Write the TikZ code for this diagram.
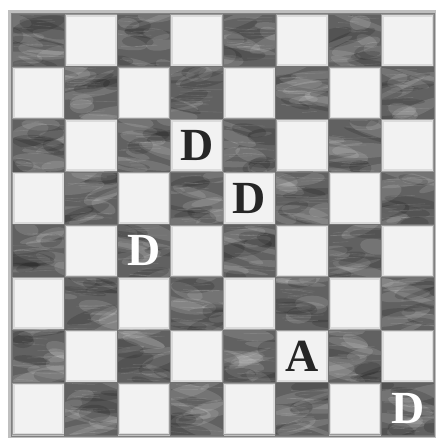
\documentclass[tikz,border=0pt]{standalone}
\usepackage{fontspec}
\setmainfont{Liberation Serif}
\begin{document}
\begin{tikzpicture}[x=1pt,y=-1pt,
  piece/.style={inner sep=0pt,font=\fontsize{46}{46}\selectfont\bfseries},
  onlight/.style={piece,text=black!85},
  ondark/.style={piece,text=white}]
\pgfmathsetseed{23}
\useasboundingbox (0,0) rectangle (437,440);
\fill[white] (0,0) rectangle (437,440);
\def\sx{52.75}
\def\sy{52.65}
\fill[black!25] (8,10) rectangle (436,438);
\foreach \r in {0,...,7}{
 \foreach \c in {0,...,7}{
  \pgfmathsetmacro\xa{12+\c*\sx}
  \pgfmathsetmacro\ya{14+\r*\sy}
  \pgfmathtruncatemacro\parity{mod(\r+\c,2)}
  \ifnum\parity=0
    \fill[black!62] (\xa,\ya) rectangle ++(\sx,\sy);
    \begin{scope}
      \clip (\xa,\ya) rectangle ++(\sx,\sy);
      \foreach \k in {1,...,9}{
        \pgfmathsetmacro\px{\xa+rnd*\sx}
        \pgfmathsetmacro\py{\ya+rnd*\sy}
        \pgfmathsetmacro\rx{10+rnd*24}
        \pgfmathsetmacro\ry{2+rnd*6}
        \pgfmathsetmacro\an{-25+rnd*50}
        \fill[white,opacity=0.12,rotate around={\an:(\px,\py)}] (\px,\py) ellipse ({\rx} and {\ry});
      }
      \foreach \k in {1,...,5}{
        \pgfmathsetmacro\px{\xa+rnd*\sx}
        \pgfmathsetmacro\py{\ya+rnd*\sy}
        \pgfmathsetmacro\rx{10+rnd*20}
        \pgfmathsetmacro\ry{2+rnd*7}
        \pgfmathsetmacro\an{-20+rnd*40}
        \fill[black,opacity=0.14,rotate around={\an:(\px,\py)}] (\px,\py) ellipse ({\rx} and {\ry});
      }
      \foreach \k in {1,...,14}{
        \pgfmathsetmacro\py{\ya+rnd*\sy}
        \pgfmathsetmacro\px{\xa+rnd*\sx*0.5}
        \draw[white,opacity=0.1,line width=0.6pt] (\px,\py) -- ++({10+rnd*25},{-2+rnd*4});
      }
    \end{scope}
    \draw[black!55,line width=0.8pt] (\xa,\ya) rectangle ++(\sx,\sy);
  \else
    \fill[black!40] (\xa,\ya) rectangle ++(\sx,\sy);
    \fill[black!14] (\xa+1,\ya+1) rectangle ++(\sx-2,\sy-2);
    \fill[black!5] (\xa+2.5,\ya+2.5) rectangle ++(\sx-5,\sy-5);
  \fi
 }
}
\draw[black!50,line width=0.8pt] (11,13) rectangle (434.5,436);
\node[onlight] (d1) at ({12+3.5*\sx},{14+2.5*\sy}) {D};
\node[onlight] (d2) at ({12+4.5*\sx},{14+3.5*\sy}) {D};
\node[ondark]  (d3) at ({12+2.5*\sx},{14+4.5*\sy}) {D};
\node[onlight] (a1) at ({12+5.5*\sx},{14+6.5*\sy}) {A};
\node[ondark]  (d4) at ({12+7.5*\sx},{14+7.5*\sy}) {D};
\end{tikzpicture}
\end{document}
